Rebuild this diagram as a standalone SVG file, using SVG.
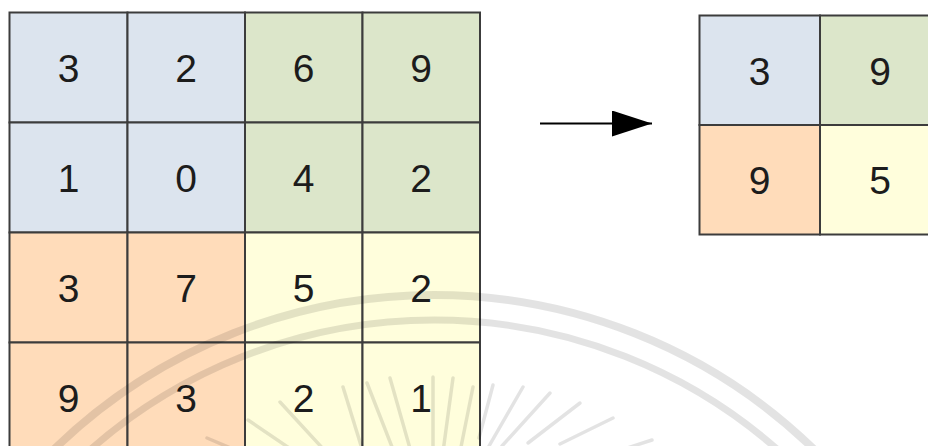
<svg xmlns="http://www.w3.org/2000/svg" width="928" height="446" viewBox="0 0 928 446">
  <defs>
    <style>
      .cell { stroke: #3c3c3c; stroke-width: 2; }
      .blue { fill: #dce4ee; }
      .green { fill: #dce6ca; }
      .orange { fill: #ffdcba; }
      .yellow { fill: #fffedc; }
      .num { font-family: "Liberation Sans", Arial, sans-serif; font-size: 39px; fill: #1c1c1c; text-anchor: middle; }
      .edge { stroke: #000; stroke-width: 2; fill: none; }
      .wm { fill: none; stroke: #000; stroke-opacity: 0.11; }
      .ray { stroke: #000; stroke-opacity: 0.11; stroke-width: 3.5; stroke-linecap: round; fill: none; }
    </style>
    <marker id="arrowhead" viewBox="0 0 40 26" refX="40" refY="13" markerWidth="40" markerHeight="26" markerUnits="userSpaceOnUse" orient="auto">
      <path d="M0,0 L40,13 L0,26 Z" fill="#000"/>
    </marker>
  </defs>

  <rect width="928" height="446" fill="#fff"/>

  <!-- input feature map, 4x4 -->
  <g id="in-r0c0"><rect class="cell blue" x="9.5" y="12.5" width="118" height="110"/><text class="num" x="68.5" y="81.5">3</text></g>
  <g id="in-r0c1"><rect class="cell blue" x="127.5" y="12.5" width="117.5" height="110"/><text class="num" x="186.2" y="81.5">2</text></g>
  <g id="in-r0c2"><rect class="cell green" x="245" y="12.5" width="117.5" height="110"/><text class="num" x="303.7" y="81.5">6</text></g>
  <g id="in-r0c3"><rect class="cell green" x="362.5" y="12.5" width="117.5" height="110"/><text class="num" x="421.2" y="81.5">9</text></g>

  <g id="in-r1c0"><rect class="cell blue" x="9.5" y="122.5" width="118" height="110"/><text class="num" x="68.5" y="191.5">1</text></g>
  <g id="in-r1c1"><rect class="cell blue" x="127.5" y="122.5" width="117.5" height="110"/><text class="num" x="186.2" y="191.5">0</text></g>
  <g id="in-r1c2"><rect class="cell green" x="245" y="122.5" width="117.5" height="110"/><text class="num" x="303.7" y="191.5">4</text></g>
  <g id="in-r1c3"><rect class="cell green" x="362.5" y="122.5" width="117.5" height="110"/><text class="num" x="421.2" y="191.5">2</text></g>

  <g id="in-r2c0"><rect class="cell orange" x="9.5" y="232.5" width="118" height="110"/><text class="num" x="68.5" y="301.5">3</text></g>
  <g id="in-r2c1"><rect class="cell orange" x="127.5" y="232.5" width="117.5" height="110"/><text class="num" x="186.2" y="301.5">7</text></g>
  <g id="in-r2c2"><rect class="cell yellow" x="245" y="232.5" width="117.5" height="110"/><text class="num" x="303.7" y="301.5">5</text></g>
  <g id="in-r2c3"><rect class="cell yellow" x="362.5" y="232.5" width="117.5" height="110"/><text class="num" x="421.2" y="301.5">2</text></g>

  <g id="in-r3c0"><rect class="cell orange" x="9.5" y="342.5" width="118" height="110"/><text class="num" x="68.5" y="411.5">9</text></g>
  <g id="in-r3c1"><rect class="cell orange" x="127.5" y="342.5" width="117.5" height="110"/><text class="num" x="186.2" y="411.5">3</text></g>
  <g id="in-r3c2"><rect class="cell yellow" x="245" y="342.5" width="117.5" height="110"/><text class="num" x="303.7" y="411.5">2</text></g>
  <g id="in-r3c3"><rect class="cell yellow" x="362.5" y="342.5" width="117.5" height="110"/><text class="num" x="421.2" y="411.5">1</text></g>

  <!-- pooled output, 2x2 -->
  <g id="out-r0c0"><rect class="cell blue" x="699.5" y="15.5" width="120.5" height="109.5"/><text class="num" x="759.7" y="84.5">3</text></g>
  <g id="out-r0c1"><rect class="cell green" x="820" y="15.5" width="120.5" height="109.5"/><text class="num" x="880.2" y="84.5">9</text></g>
  <g id="out-r1c0"><rect class="cell orange" x="699.5" y="125" width="120.5" height="109.5"/><text class="num" x="759.7" y="194">9</text></g>
  <g id="out-r1c1"><rect class="cell yellow" x="820" y="125" width="120.5" height="109.5"/><text class="num" x="880.2" y="194">5</text></g>

  <!-- connectors -->
  <g id="connectors">
    <line class="edge" x1="540" y1="123.5" x2="652" y2="123.5" marker-end="url(#arrowhead)"/>
  </g>

  <!-- faint emblem in the background -->
  <g id="emblem">
    <circle class="wm" cx="434" cy="840" r="545" stroke-width="8"/>
    <circle class="wm" cx="434" cy="840" r="520" stroke-width="7"/>
    <path class="ray" d="M207,438 L240,452"/>
    <path class="ray" d="M248,420 L298,454"/>
    <path class="ray" d="M280,402 L326,452"/>
    <path class="ray" d="M343,387 L363,452"/>
    <path class="ray" d="M367,383 L394,452"/>
    <path class="ray" d="M390,378 L411,452"/>
    <path class="ray" d="M433,377 L433,452"/>
    <path class="ray" d="M453,378 L443,452"/>
    <path class="ray" d="M473,387 L460,452"/>
    <path class="ray" d="M493,385 L479,438"/>
    <path class="ray" d="M523,387 L489,446"/>
    <path class="ray" d="M550,393 L502,446"/>
    <path class="ray" d="M580,403 L528,443"/>
    <path class="ray" d="M613,418 L560,444"/>
    <path class="ray" d="M652,440 L615,452"/>
  </g>
</svg>
